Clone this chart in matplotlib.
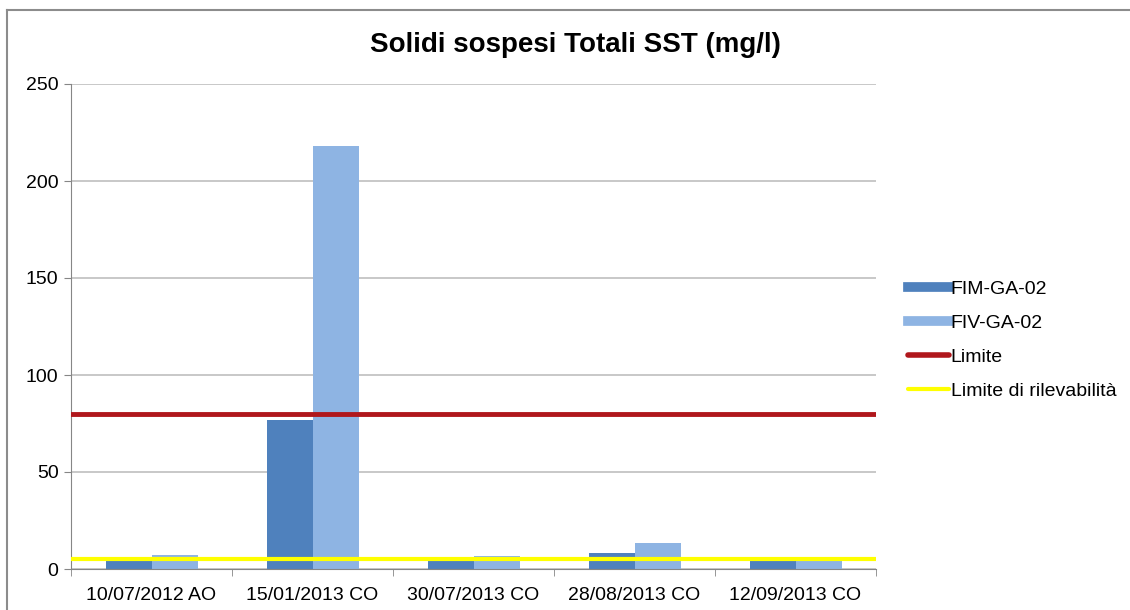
import numpy as np
import matplotlib
matplotlib.use("Agg")
from matplotlib import pyplot as plt
from matplotlib.lines import Line2D

plt.rcParams['font.family'] = ['Liberation Sans', 'DejaVu Sans']

# data
categories = ["10/07/2012 AO", "15/01/2013 CO", "30/07/2013 CO",
              "28/08/2013 CO", "12/09/2013 CO"]
fim_values = [4, 77, 4, 8, 4]
fiv_values = [7, 218, 6.5, 13.5, 4]
limite = 80
limite_ril = 5
y_ticks = [0, 50, 100, 150, 200, 250]

col_fim = '#4F81BD'
col_fiv = '#8EB4E3'
col_lim = '#B0171C'
col_ril = '#FFFF00'

fig = plt.figure(figsize=(11.3, 6.1), dpi=100)
ax = fig.add_axes([71/1130, 1-569/610, (876-71)/1130, (569-84)/610])

x = np.arange(len(categories))
w = 1/1.75/2  # excel gap width 75%
ax.bar(x - w/2, fim_values, w, color=col_fim, zorder=2)
ax.bar(x + w/2, fiv_values, w, color=col_fiv, zorder=2)
ax.axhline(limite, color=col_lim, lw=3.5, zorder=3)
ax.axhline(limite_ril, color=col_ril, lw=3, zorder=3)

ax.set_xlim(-0.5, len(categories)-0.5)
ax.set_ylim(0, 250)
ax.set_yticks(y_ticks)
ax.tick_params(axis='y', labelsize=14, length=5, color='#868686', pad=4)
ax.yaxis.grid(True, color='#BFBFBF', lw=1.2, zorder=0)

ax.set_xticks(x)
ax.set_xticklabels(categories, fontsize=14)
ax.set_xticks(np.arange(-0.5, len(categories)), minor=True)
ax.tick_params(axis='x', which='major', length=0, pad=13)
ax.tick_params(axis='x', which='minor', length=5, color='#868686')

for s in ['top', 'right']:
    ax.spines[s].set_visible(False)
for s in ['left', 'bottom']:
    ax.spines[s].set_color('#868686')

fig.text(575/1130, 1-52/610, "Solidi sospesi Totali SST (mg/l)", ha='center',
         va='baseline', fontsize=20, fontweight='bold')

handles = [Line2D([], [], color=col_fim, lw=7),
           Line2D([], [], color=col_fiv, lw=7),
           Line2D([], [], color=col_lim, lw=4, solid_capstyle='round'),
           Line2D([], [], color=col_ril, lw=3, solid_capstyle='round')]
labels = ["FIM-GA-02", "FIV-GA-02", "Limite", "Limite di rilevabilità"]
fig.legend(handles, labels, loc='center left', bbox_to_anchor=(908/1130, 1-340/610),
           frameon=False, fontsize=14, handlelength=2.1, handletextpad=0.1,
           labelspacing=0.85, borderaxespad=0, borderpad=0)

# chart border
fig.add_artist(Line2D([7/1130, 1], [1-10/610, 1-10/610], color='#8C8C8C', lw=1.5))
fig.add_artist(Line2D([7/1130, 7/1130], [0, 1-10/610], color='#8C8C8C', lw=1.5))

fig.savefig("out.png", dpi=100)
